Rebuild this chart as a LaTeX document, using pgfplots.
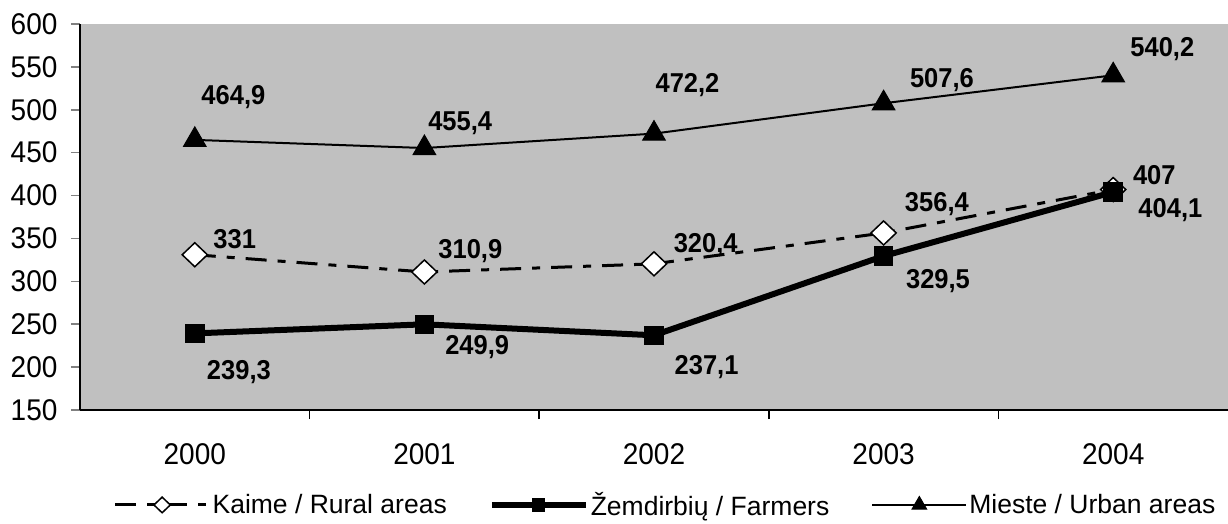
\documentclass[border=0pt]{standalone}
\usepackage{fontspec}
\setmainfont{Liberation Sans}
\usepackage{pgfplots}
\pgfplotsset{compat=1.18}
\definecolor{plotgray}{RGB}{192,192,192}
\begin{document}
\begin{tikzpicture}
\begin{axis}[
  scale only axis, width=1148pt, height=386pt,
  xmin=-0.5, xmax=4.5, ymin=150, ymax=600,
  axis x line*=bottom, axis y line*=left,
  axis line style={line width=1.5pt},
  axis background/.style={fill=plotgray},
  xtick={0,...,4}, xticklabels={2000,2001,2002,2003,2004},
  minor x tick num=1,
  ytick={150,200,...,600},
  tick align=outside,
  major tick length=9pt, minor tick length=9pt,
  major x tick style={draw=none},
  minor x tick style={draw=black,line width=1.5pt},
  y tick style={line width=1.5pt},
  ticklabel style={font=\fontsize{28}{32}\selectfont, yscale=1.07},
  xticklabel style={yshift=-19pt},
  yticklabel style={xshift=-10pt},
  /pgf/number format/assume math mode=true,
  clip=false,
  legend columns=3,
  legend cell align=left,
  legend style={at={(0.51,-0.246)}, anchor=center, draw=none, fill=none,
    font=\fontsize{26.5}{32}\selectfont,
    /tikz/every even column/.append style={column sep=40pt}},
  legend image code/.code={\draw[mark repeat=2,mark phase=2,every mark/.append style={scale=0.65}] plot coordinates {(0pt,0pt) (47pt,0pt) (94pt,0pt)};},
]
\addplot[black, line width=3pt, dash pattern=on 21pt off 11pt on 8pt off 11pt,
  mark=diamond*, mark size=12pt, mark options={solid, fill=white, line width=1.5pt, xscale=1.4}]
  coordinates {(0,331) (1,310.9) (2,320.4) (3,356.4) (4,407)};
\addlegendentry{Kaime / Rural areas}
\addplot[black, line width=6pt,
  mark=square*, mark size=9pt, mark options={fill=black, line width=1.5pt}]
  coordinates {(0,239.3) (1,249.9) (2,237.1) (3,329.5) (4,404.1)};
\addlegendentry{Žemdirbių / Farmers}
\addplot[black, line width=2pt,
  mark=triangle*, mark size=13pt, mark options={fill=black, line width=1pt}]
  coordinates {(0,464.9) (1,455.4) (2,472.2) (3,507.6) (4,540.2)};
\addlegendentry{Mieste / Urban areas}

\begin{scope}[every node/.style={font=\bfseries\fontsize{25.5}{30}\selectfont, yscale=1.07}]
\node at (axis cs:0.168,514.3) {464,9};
\node at (axis cs:1.156,484.9) {455,4};
\node at (axis cs:2.146,528.9) {472,2};
\node at (axis cs:3.254,534.1) {507,6};
\node at (axis cs:4.214,570.9) {540,2};
\node at (axis cs:0.174,348.8) {331};
\node at (axis cs:1.200,335.4) {310,9};
\node at (axis cs:2.225,342.4) {320,4};
\node at (axis cs:3.232,390.2) {356,4};
\node at (axis cs:4.179,423.4) {407};
\node at (axis cs:4.249,382.6) {404,1};
\node at (axis cs:3.237,300.4) {329,5};
\node at (axis cs:1.230,222.9) {249,9};
\node at (axis cs:0.192,193.7) {239,3};
\node at (axis cs:2.229,200.1) {237,1};
\end{scope}
\end{axis}
\pgfresetboundingbox
\useasboundingbox ([xshift=-80pt,yshift=-114pt]current axis.south west) rectangle ([yshift=24pt]current axis.north east);
\end{tikzpicture}
\end{document}
